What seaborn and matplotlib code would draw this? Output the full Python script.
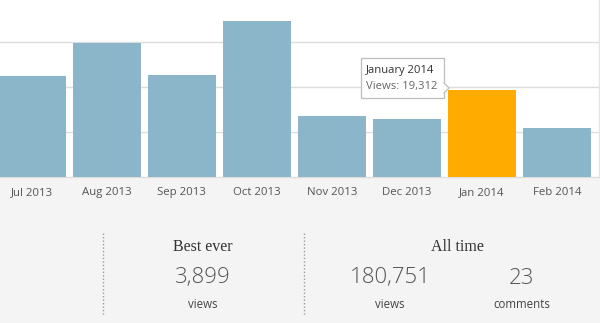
import matplotlib
matplotlib.use("Agg")
import matplotlib.pyplot as plt
import seaborn as sns
import pandas as pd
from matplotlib.patches import Rectangle, Polygon
from matplotlib.lines import Line2D

months = ["Jul 2013", "Aug 2013", "Sep 2013", "Oct 2013", "Nov 2013", "Dec 2013", "Jan 2014", "Feb 2014"]
views = [22450, 29850, 22650, 34600, 13550, 12800, 19312, 10800]
highlight = "Jan 2014"
highlight_label = "January 2014"
grid_values = [10000, 20000, 30000]

best_ever_views = "3,899"
all_time_views = "180,751"
all_time_comments = "23"

BLUE = "#8bb6ca"
ORANGE = "#ffab00"

sns.set_theme(style="white")
plt.rcParams["font.family"] = ["Open Sans", "DejaVu Sans"]

W, H = 600, 323
fig = plt.figure(figsize=(6, 3.23), dpi=100)
fig.patch.set_facecolor("white")

def fx(x):
    return x / W

def fy(y):
    return 1 - y / H

# gray lower band
fig.add_artist(Rectangle((0, 0), 1, fy(177), transform=fig.transFigure,
                         facecolor="#f4f4f4", edgecolor="none", zorder=0))

base_y = 177
ax = fig.add_axes([0, fy(base_y), fx(599), 1 - fy(base_y)])
ax.set_facecolor("white")

df = pd.DataFrame({"month": months, "views": views})
palette = {m: (ORANGE if m == highlight else BLUE) for m in months}
sns.barplot(data=df, x="month", y="views", hue="month", palette=palette,
            legend=False, width=0.9, saturation=1, ax=ax, zorder=3)
for p in ax.patches:
    p.set_edgecolor("none")

ax.set_xlim(-31.8 / 75, (599 - 31.8) / 75)
ax.set_ylim(0, 177 / 45 * 10000)
ax.set_yticks(grid_values)
ax.yaxis.grid(True, color="#dcdcdc", linewidth=1, zorder=0)
ax.set_axisbelow(True)
ax.tick_params(axis="y", length=0, labelleft=False)
ax.tick_params(axis="x", length=0, pad=7.5, labelsize=8.2, labelcolor="#555555")
ax.set_xlabel("")
ax.set_ylabel("")
for s in ["top", "left"]:
    ax.spines[s].set_visible(False)
ax.spines["bottom"].set_color("#dddddd")
ax.spines["bottom"].set_linewidth(1)
ax.spines["right"].set_color("#e4e4e4")
ax.spines["right"].set_linewidth(1)

# tooltip
x0, y0, x1, y1 = 361, 58, 444, 98
fig.add_artist(Rectangle((fx(x0) + 0.002, fy(y1) - 0.004), fx(x1 - x0), fy(y0) - fy(y1),
                         transform=fig.transFigure, facecolor="#e6e6e6",
                         edgecolor="none", zorder=9))
fig.add_artist(Rectangle((fx(x0), fy(y1)), fx(x1 - x0), fy(y0) - fy(y1),
                         transform=fig.transFigure, facecolor="white",
                         edgecolor="#bdbdbd", linewidth=0.9, zorder=10))
fig.add_artist(Polygon([(fx(x1) - 0.0005, fy(83)), (fx(x1 + 5), fy(88)), (fx(x1) - 0.0005, fy(93))],
                       closed=True, transform=fig.transFigure, facecolor="white",
                       edgecolor="none", zorder=11))
fig.add_artist(Line2D([fx(x1), fx(x1 + 5), fx(x1)], [fy(83), fy(88), fy(93)],
                      transform=fig.transFigure, color="#bdbdbd", linewidth=0.9, zorder=12))
jan_val = views[months.index(highlight)]
fig.text(fx(366), fy(70), highlight_label, ha="left", va="center", fontsize=8.1,
         color="#333333", zorder=13)
fig.text(fx(366), fy(86), f"Views: {jan_val:,}", ha="left", va="center", fontsize=8.1,
         color="#666666", zorder=13)

# dotted separators
for xs in (103, 304):
    fig.add_artist(Line2D([fx(xs), fx(xs)], [fy(233), fy(316)], transform=fig.transFigure,
                          color="#9a9a9a", linewidth=1, linestyle=(0, (1, 1.5)), zorder=2))

serif = ["Liberation Serif", "DejaVu Serif"]
fig.text(fx(203), fy(247), "Best ever", ha="center", va="center", fontsize=11.5,
         family=serif, color="#333333")
fig.text(fx(457), fy(247), "All time", ha="center", va="center", fontsize=11.5,
         family=serif, color="#333333")

big = dict(ha="center", va="center", fontsize=16, color="#555555", fontweight="light")
fig.text(fx(203), fy(278), best_ever_views, **big)
fig.text(fx(390), fy(278), all_time_views, **big)
fig.text(fx(522), fy(278), all_time_comments, **big)

small = dict(ha="center", va="center", fontsize=8.3, color="#444444")
fig.text(fx(203), fy(305), "views", **small)
fig.text(fx(390), fy(305), "views", **small)
fig.text(fx(522), fy(305), "comments", **small)

fig.savefig("out.png", dpi=100, facecolor=fig.get_facecolor())
